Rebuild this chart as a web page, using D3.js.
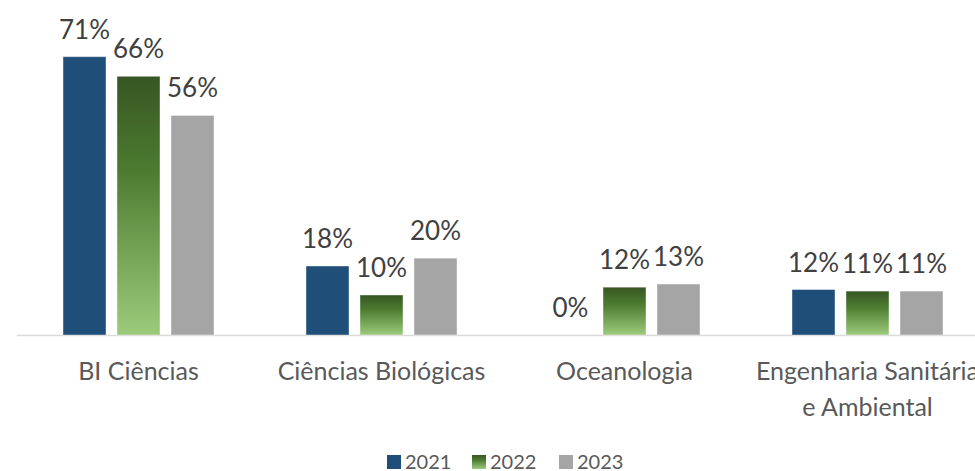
<!DOCTYPE html>
<html>
<head>
<meta charset="utf-8">
<script src="https://cdn.jsdelivr.net/npm/d3@7"></script>
<style>
  html, body { margin: 0; padding: 0; background: #fff; overflow: hidden; }
  svg { display: block; font-family: Lato, "Open Sans", sans-serif; }
</style>
</head>
<body>
<svg id="chart" width="975" height="471"></svg>
<script>
const categories = ["BI Ciências", "Ciências Biológicas", "Oceanologia", "Engenharia Sanitária\ne Ambiental"];
const years = ["2021", "2022", "2023"];
const values2021 = [0.71, 0.176, 0, 0.116];
const values2022 = [0.66, 0.102, 0.122, 0.112];
const values2023 = [0.56, 0.196, 0.13, 0.112];

const series = [values2021, values2022, values2023];
const fills = ["#1f4e79", "url(#green)", "#a5a5a5"];

const width = 975;
const height = 471;
const baseY = 335;

const svg = d3.select("#chart");

const defs = svg.append("defs");
const grad = defs.append("linearGradient")
  .attr("id", "green")
  .attr("x1", 0).attr("y1", 0).attr("x2", 0).attr("y2", 1);
grad.append("stop").attr("offset", "0%").attr("stop-color", "#375623");
grad.append("stop").attr("offset", "35%").attr("stop-color", "#4b7a2f");
grad.append("stop").attr("offset", "100%").attr("stop-color", "#9dcb7c");

// step of 243px per category; the last group runs past the right edge
const x0 = d3.scaleBand()
  .domain(categories)
  .range([17, 17 + 243 * categories.length])
  .paddingInner(1 / 3)
  .paddingOuter(1 / 6);

const x1 = d3.scaleBand()
  .domain(years)
  .range([0, x0.bandwidth()])
  .paddingInner(0.204)
  .paddingOuter(0.102);

const y = d3.scaleLinear()
  .domain([0, 0.8])
  .range([baseY, baseY - 0.8 * 392]);

const pct = d3.format(".0%");

const rows = categories.map((c, i) => ({
  category: c,
  bars: years.map((yr, j) => ({ year: yr, value: series[j][i], fill: fills[j] }))
}));

// axis baseline
svg.append("line")
  .attr("x1", x0.range()[0])
  .attr("x2", width)
  .attr("y1", baseY + 0.5)
  .attr("y2", baseY + 0.5)
  .attr("stroke", "#d9d9d9")
  .attr("stroke-width", 1.5);

const groups = svg.append("g")
  .selectAll("g")
  .data(rows)
  .join("g")
  .attr("transform", (d) => `translate(${x0(d.category)},0)`);

groups.selectAll("rect")
  .data((d) => d.bars.filter((b) => b.value > 0))
  .join("rect")
  .attr("x", (d) => x1(d.year))
  .attr("y", (d) => y(d.value))
  .attr("width", x1.bandwidth())
  .attr("height", (d) => y(0) - y(d.value))
  .attr("fill", (d) => d.fill)
  .attr("stroke", "#ffffff")
  .attr("stroke-opacity", 0.4)
  .attr("stroke-width", 1);

groups.selectAll("text.val")
  .data((d) => d.bars)
  .join("text")
  .attr("class", "val")
  .attr("x", (d) => x1(d.year) + x1.bandwidth() / 2)
  .attr("y", (d) => y(d.value) - 18)
  .attr("text-anchor", "middle")
  .attr("font-size", 26)
  .attr("fill", "#404040")
  .text((d) => pct(d.value));

// category labels
const catLabels = svg.append("g")
  .selectAll("text")
  .data(categories)
  .join("text")
  .attr("x", (d) => x0(d) + x0.bandwidth() / 2)
  .attr("y", 380)
  .attr("text-anchor", "middle")
  .attr("font-size", 25)
  .attr("fill", "#595959");

catLabels.selectAll("tspan")
  .data((d) => d.split("\n"))
  .join("tspan")
  .attr("x", function () { return this.parentNode.getAttribute("x"); })
  .attr("dy", (d, i) => (i === 0 ? 0 : 36))
  .text((d) => d);

// legend
const legendX = [387, 472, 559];
const legend = svg.append("g")
  .selectAll("g")
  .data(years)
  .join("g")
  .attr("transform", (d, i) => `translate(${legendX[i]},455)`);

legend.append("rect")
  .attr("width", 14)
  .attr("height", 14)
  .attr("fill", (d, i) => fills[i]);

legend.append("text")
  .attr("x", 18)
  .attr("y", 13.5)
  .attr("font-size", 20)
  .attr("fill", "#595959")
  .text((d) => d);
</script>
</body>
</html>
